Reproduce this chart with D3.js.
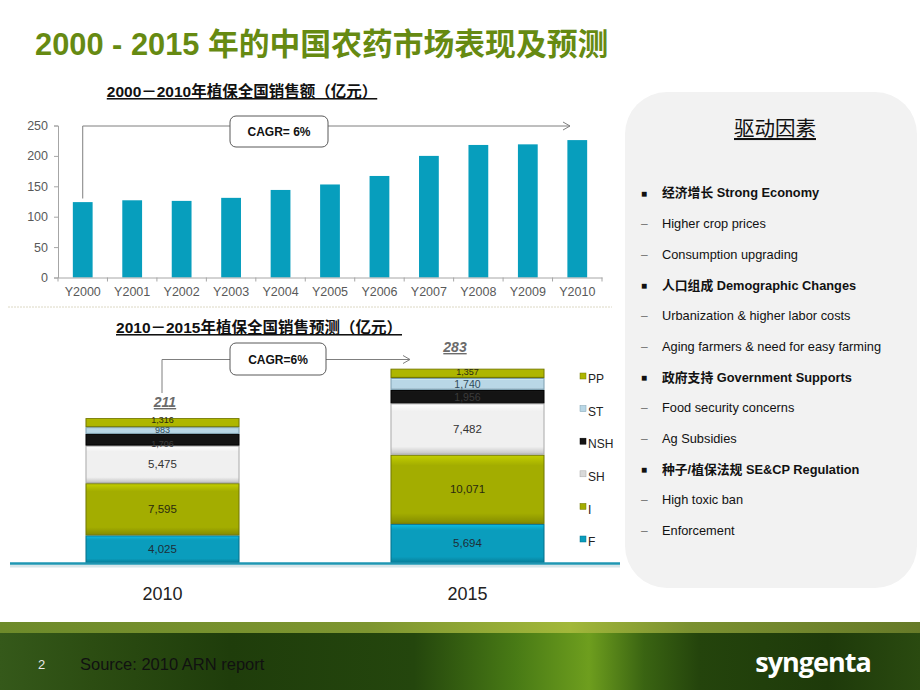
<!DOCTYPE html>
<html><head><meta charset="utf-8">
<script src="https://cdn.jsdelivr.net/npm/d3@7"></script>
<style>
html,body{margin:0;padding:0;background:#fff;}
svg{display:block;font-family:"Liberation Sans",Arial,"Noto Sans CJK SC",sans-serif;}
</style></head><body>
<svg id="c" width="920" height="690"></svg>
<script>
// ---- data ----
const years = ["Y2000","Y2001","Y2002","Y2003","Y2004","Y2005","Y2006","Y2007","Y2008","Y2009","Y2010"];
const sales = [124,127,126,131,144,153,167,200,218,219,226];
const yTicks = [0,50,100,150,200,250];
const forecastYears = ["2010","2015"];
const segF   = [4025,5694];
const segI   = [7595,10071];
const segSH  = [5475,7482];
const segNSH = [1706,1956];
const segST  = [983,1740];
const segPP  = [1316,1357];
const totals = [211,283];
const seriesNames = ["F","I","SH","NSH","ST","PP"];
const legendOrder = ["PP","ST","NSH","SH","I","F"];
const drivers = [
  {t:"经济增长 Strong Economy", h:true},
  {t:"Higher crop prices", h:false},
  {t:"Consumption upgrading", h:false},
  {t:"人口组成 Demographic Changes", h:true},
  {t:"Urbanization & higher labor costs", h:false},
  {t:"Aging farmers & need for easy farming", h:false},
  {t:"政府支持  Government Supports", h:true},
  {t:"Food security concerns", h:false},
  {t:"Ag Subsidies", h:false},
  {t:"种子/植保法规  SE&CP Regulation", h:true},
  {t:"High toxic ban", h:false},
  {t:"Enforcement", h:false}
];

const svg = d3.select("#c");
const defs = svg.append("defs");

// ---- footer background ----
const fg = defs.append("linearGradient").attr("id","foot").attr("x1","0").attr("x2","1");
[[0,"#35591a"],[0.1,"#2c4d12"],[0.25,"#1f3d0b"],[0.45,"#24460d"],[0.56,"#487a15"],[0.64,"#6e9e1e"],[0.7,"#3a6412"],[0.76,"#24440c"],[0.9,"#1e3a0a"],[1,"#2a4a10"]]
  .forEach(s=>fg.append("stop").attr("offset",s[0]).attr("stop-color",s[1]));
const fs = defs.append("linearGradient").attr("id","strip").attr("x1","0").attr("x2","1");
[[0,"#6d8a2a"],[0.4,"#7d9530"],[0.62,"#a2b83a"],[0.75,"#7a9030"],[1,"#667a28"]]
  .forEach(s=>fs.append("stop").attr("offset",s[0]).attr("stop-color",s[1]));
svg.append("rect").attr("x",0).attr("y",622).attr("width",920).attr("height",68).attr("fill","url(#foot)");
svg.append("rect").attr("x",0).attr("y",622).attr("width",920).attr("height",11).attr("fill","url(#strip)");
svg.append("text").attr("x",38).attr("y",669).attr("font-size",13).attr("fill","#e8e8e8").text("2");
svg.append("text").attr("x",80).attr("y",670).attr("font-size",16.5).attr("fill","#111").text("Source: 2010 ARN report");
svg.append("text").attr("x",813).attr("y",672).attr("text-anchor","middle").attr("font-size",27).attr("font-weight","bold")
  .attr("fill","#fff").attr("font-family","'Open Sans','DejaVu Sans',sans-serif").attr("letter-spacing",-1).text("syngenta");

// ---- title ----
svg.append("text").attr("x",35).attr("y",55).attr("font-size",30.8).attr("font-weight","bold").attr("fill","#668a12")
  .text("2000 - 2015 年的中国农药市场表现及预测");

// ---- top chart ----
const x1 = d3.scaleBand().domain(years).range([58,602]).paddingInner(0.6).paddingOuter(0.3);
const y1 = d3.scaleLinear().domain([0,250]).range([277.5,125.5]);
const axisCol = "#a6a6a6", labCol = "#595959";
function underlinedText(x,y,txt,size){
  return svg.append("text").attr("x",x).attr("y",y).attr("text-anchor","middle").attr("font-size",size)
    .attr("font-weight","bold").attr("fill","#111").attr("text-decoration","underline").text(txt);
}
underlinedText(242,97,"2000－2010年植保全国销售额（亿元）",15.5);

svg.append("g").selectAll("rect").data(sales).join("rect")
  .attr("x",(d,i)=>x1(years[i])).attr("width",x1.bandwidth())
  .attr("y",d=>y1(d)).attr("height",d=>y1(0)-y1(d)).attr("fill","#079ebd");

const yAx = svg.append("g").attr("transform","translate(58,0)")
  .call(d3.axisLeft(y1).tickValues(yTicks).tickSize(4).tickPadding(6));
yAx.select(".domain").attr("stroke",axisCol);
yAx.selectAll(".tick line").attr("stroke",axisCol);
yAx.selectAll("text").attr("font-size",12.5).attr("fill",labCol).attr("font-family","'Liberation Sans',Arial,sans-serif");

const xAx = svg.append("g").attr("transform",`translate(0,${y1(0)})`)
  .call(d3.axisBottom(x1).tickSize(0).tickPadding(10));
xAx.select(".domain").attr("stroke",axisCol);
xAx.selectAll("text").attr("font-size",12.5).attr("fill",labCol).attr("font-family","'Liberation Sans',Arial,sans-serif");
const step1 = x1.step();
svg.append("g").selectAll("line").data(d3.range(years.length+1)).join("line")
  .attr("x1",i=>58+i*step1).attr("x2",i=>58+i*step1).attr("y1",y1(0)).attr("y2",y1(0)+4).attr("stroke",axisCol);

// CAGR annotation top
const cx0 = x1("Y2000")+x1.bandwidth()/2;
const lineY1 = y1(250)+0.5;
svg.append("path").attr("d",`M${cx0},${y1(125)-3}V${lineY1}H230`).attr("fill","none").attr("stroke","#7f7f7f");
svg.append("path").attr("d",`M328,${lineY1}H570M563,${lineY1-4}L570,${lineY1}L563,${lineY1+4}`).attr("fill","none").attr("stroke","#7f7f7f");
svg.append("rect").attr("x",230).attr("y",116).attr("width",98).attr("height",31).attr("rx",6).attr("fill","#fff").attr("stroke","#595959");
svg.append("text").attr("x",279).attr("y",136).attr("text-anchor","middle").attr("font-size",12).attr("font-weight","bold").attr("fill","#111").text("CAGR= 6%");

// separator
svg.append("line").attr("x1",8).attr("x2",612).attr("y1",307).attr("y2",307).attr("stroke","#dcd8c4").attr("stroke-dasharray","2,1");

// ---- bottom chart ----
underlinedText(259,333,"2010－2015年植保全国销售预测（亿元）",15.5);
const x2 = d3.scaleBand().domain(forecastYears).range([10,620]).paddingInner(0.495).paddingOuter(0.2475);
const y2 = d3.scaleLinear().domain([0,30000]).range([563,357]);
const colors = {F:"#0a9dbd",I:"#a3ad00",SH:"#f0f0f0",NSH:"#141414",ST:"#b9d7e6",PP:"#aeb600"};
const edge = {F:"#06708a",I:"#6f7600",SH:"#a9a9a9",NSH:"#000",ST:"#7d9fb0",PP:"#737800"};
const labColors = {F:"#1e2e38",I:"#2a2a10",SH:"#333",NSH:"#3b3b3b",ST:"#2e4a5a",PP:"#2a2a10"};
const vals = {F:segF,I:segI,SH:segSH,NSH:segNSH,ST:segST,PP:segPP};
seriesNames.forEach(s=>{
  const g = defs.append("linearGradient").attr("id","g"+s).attr("x1",0).attr("x2",0).attr("y1",0).attr("y2",1);
  const c = d3.color(colors[s]);
  g.append("stop").attr("offset",0).attr("stop-color",c.brighter(0.5));
  g.append("stop").attr("offset",0.15).attr("stop-color",c);
  g.append("stop").attr("offset",0.85).attr("stop-color",c);
  g.append("stop").attr("offset",1).attr("stop-color",c.darker(0.6));
});
const table = forecastYears.map((yr,i)=>{const o={year:yr}; seriesNames.forEach(s=>o[s]=vals[s][i]); return o;});
const stack = d3.stack().keys(seriesNames)(table);
const fmt = d3.format(",");
const crowdDy = {PP:0, ST:2.5, NSH:6.8};
const fontFor = (s,d) => { const v=d.data[s]; if (v>=2000) return 11.5; return d.data.year==="2010" ? 9 : (v<1500?9:10.5); };
const dyFor = (s,d) => { const v=d.data[s]; if (v>=2000) return 4; return d.data.year==="2010" ? crowdDy[s] : (s==="PP"?2:4); };
stack.forEach(layer=>{
  const s = layer.key;
  const g = svg.append("g");
  g.selectAll("rect").data(layer).join("rect")
    .attr("x",d=>x2(d.data.year)+0.5).attr("width",x2.bandwidth()-1)
    .attr("y",d=>y2(d[1])+0.5).attr("height",d=>Math.max(0,y2(d[0])-y2(d[1])-1))
    .attr("fill",`url(#g${s})`).attr("stroke",edge[s]).attr("stroke-width",1);
  g.selectAll("text").data(layer).join("text")
    .attr("x",d=>x2(d.data.year)+x2.bandwidth()/2)
    .attr("y",d=>(y2(d[0])+y2(d[1]))/2+dyFor(s,d))
    .attr("text-anchor","middle").attr("font-size",d=>fontFor(s,d))
    .attr("fill",labColors[s]).text(d=>fmt(d.data[s]));
});
// baseline
svg.append("line").attr("x1",10).attr("x2",620).attr("y1",566).attr("y2",566).attr("stroke","#d8e6ea").attr("stroke-width",3);
svg.append("line").attr("x1",10).attr("x2",620).attr("y1",563.5).attr("y2",563.5).attr("stroke","#1f97b3").attr("stroke-width",2.5);
svg.append("g").selectAll("text").data(forecastYears).join("text")
  .attr("x",d=>x2(d)+x2.bandwidth()/2).attr("y",600).attr("text-anchor","middle").attr("font-size",18).attr("fill","#222").text(d=>d);

// totals
const totPos = [[165,407],[455,352]];
svg.append("g").selectAll("text").data(totals).join("text")
  .attr("x",(d,i)=>totPos[i][0]).attr("y",(d,i)=>totPos[i][1]).attr("text-anchor","middle")
  .attr("font-size",14).attr("font-weight","bold").attr("font-style","italic").attr("text-decoration","underline")
  .attr("fill","#6b6b6b").text(d=>d);

// CAGR annotation bottom
svg.append("path").attr("d",`M162,393V359.5H230`).attr("fill","none").attr("stroke","#7f7f7f");
svg.append("path").attr("d",`M326,359.5H410M403,355.5L410,359.5L403,363.5`).attr("fill","none").attr("stroke","#7f7f7f");
svg.append("rect").attr("x",230).attr("y",343).attr("width",96).attr("height",32).attr("rx",6).attr("fill","#fff").attr("stroke","#595959");
svg.append("text").attr("x",278).attr("y",364).attr("text-anchor","middle").attr("font-size",12).attr("font-weight","bold").attr("fill","#111").text("CAGR=6%");

// legend
const lg = svg.append("g").selectAll("g").data(legendOrder).join("g")
  .attr("transform",(d,i)=>`translate(580,${378+i*32.6})`);
lg.append("rect").attr("x",0).attr("y",-5).attr("width",6).attr("height",6).attr("fill",d=>colors[d]==="#f0f0f0"?"#d9d9d9":colors[d]).attr("stroke",d=>edge[d]).attr("stroke-width",0.5);
lg.append("text").attr("x",8).attr("y",1).attr("dy","0.35em").attr("font-size",12).attr("fill","#222").text(d=>d);

// ---- right panel ----
svg.append("rect").attr("x",625).attr("y",92).attr("width",292).attr("height",496).attr("rx",42).attr("fill","#f2f2f2");
svg.append("text").attr("x",775).attr("y",136).attr("text-anchor","middle").attr("font-size",20.5).attr("fill","#111")
  .attr("text-decoration","underline").text("驱动因素");
const dg = svg.append("g").selectAll("g").data(drivers).join("g")
  .attr("transform",(d,i)=>`translate(0,${193+i*30.7})`);
dg.append("text").attr("x",641).attr("y",0).attr("dy","0.35em").attr("font-size",d=>d.h?10:12)
  .attr("fill",d=>d.h?"#111":"#777").text(d=>d.h?"■":"–");
dg.append("text").attr("x",662).attr("y",0).attr("dy","0.35em").attr("font-size",12.8)
  .attr("font-weight",d=>d.h?"bold":"normal").attr("fill","#111").text(d=>d.t);
</script>
</body></html>
